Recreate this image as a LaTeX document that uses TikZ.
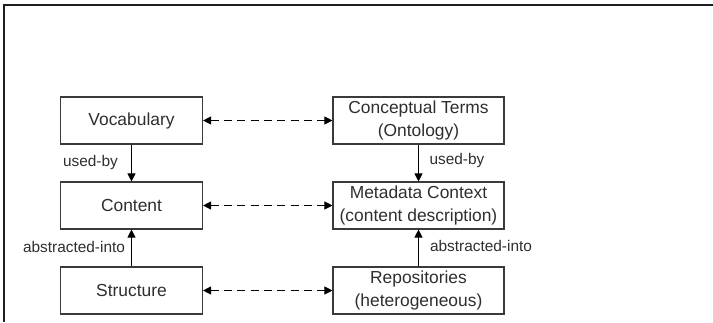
\documentclass[tikz,border=0pt]{standalone}
\usepackage{fontspec}
\setmainfont{Liberation Sans}
\usetikzlibrary{arrows.meta}
\definecolor{boxline}{HTML}{3A3A3A}
\definecolor{txt}{HTML}{2E2E2E}
\begin{document}
\begin{tikzpicture}[x=1pt,y=-1pt,
  box/.style={draw=boxline,line width=1.1pt,rectangle,minimum height=47pt,
    inner sep=0pt,align=center,text=txt,font=\fontsize{17.4}{23.5}\selectfont},
  leftbox/.style={box,minimum width=142pt},
  rightbox/.style={box,minimum width=171pt},
  lbl/.style={inner sep=0pt,text=txt,font=\fontsize{15.4}{18}\selectfont},
  rel/.style={line width=1pt,-{Triangle[length=8pt,width=8pt]}},
  link/.style={line width=1pt,dash pattern=on 8pt off 5.3pt,
    {Triangle[length=8pt,width=8pt]}-{Triangle[length=8pt,width=8pt]}}]
\useasboundingbox (0,0) rectangle (713,322);
% open frame: top and left edges only
\draw[line width=2pt,color=black!88] (713,5) -- (4,5) -- (4,322);
% left column
\node[leftbox] (voc) at (131.5,120.5) {Vocabulary};
\node[leftbox] (con) at (131.5,205.5) {Content};
\node[leftbox] (str) at (131.5,290.5) {Structure};
% right column
\node[rightbox] (ont) at (418.5,120.5) {Conceptual Terms\\(Ontology)};
\node[rightbox] (meta) at (418.5,205.5) {Metadata Context\\(content description)};
\node[rightbox] (repo) at (418.5,290.5) {Repositories\\(heterogeneous)};
% relations within each column
\draw[rel] (voc) -- (con);
\draw[rel] (str) -- (con);
\draw[rel] (ont) -- (meta);
\draw[rel] (repo) -- (meta);
\node[lbl] (ub1) at (90.5,163) {used-by};
\node[lbl] (ai1) at (74,247) {abstracted-into};
\node[lbl] (ub2) at (457,161) {used-by};
\node[lbl] (ai2) at (481,246) {abstracted-into};
% correspondences between the columns
\draw[link] (voc) -- (ont);
\draw[link] (con) -- (meta);
\draw[link] (str) -- (repo);
\end{tikzpicture}
\end{document}
